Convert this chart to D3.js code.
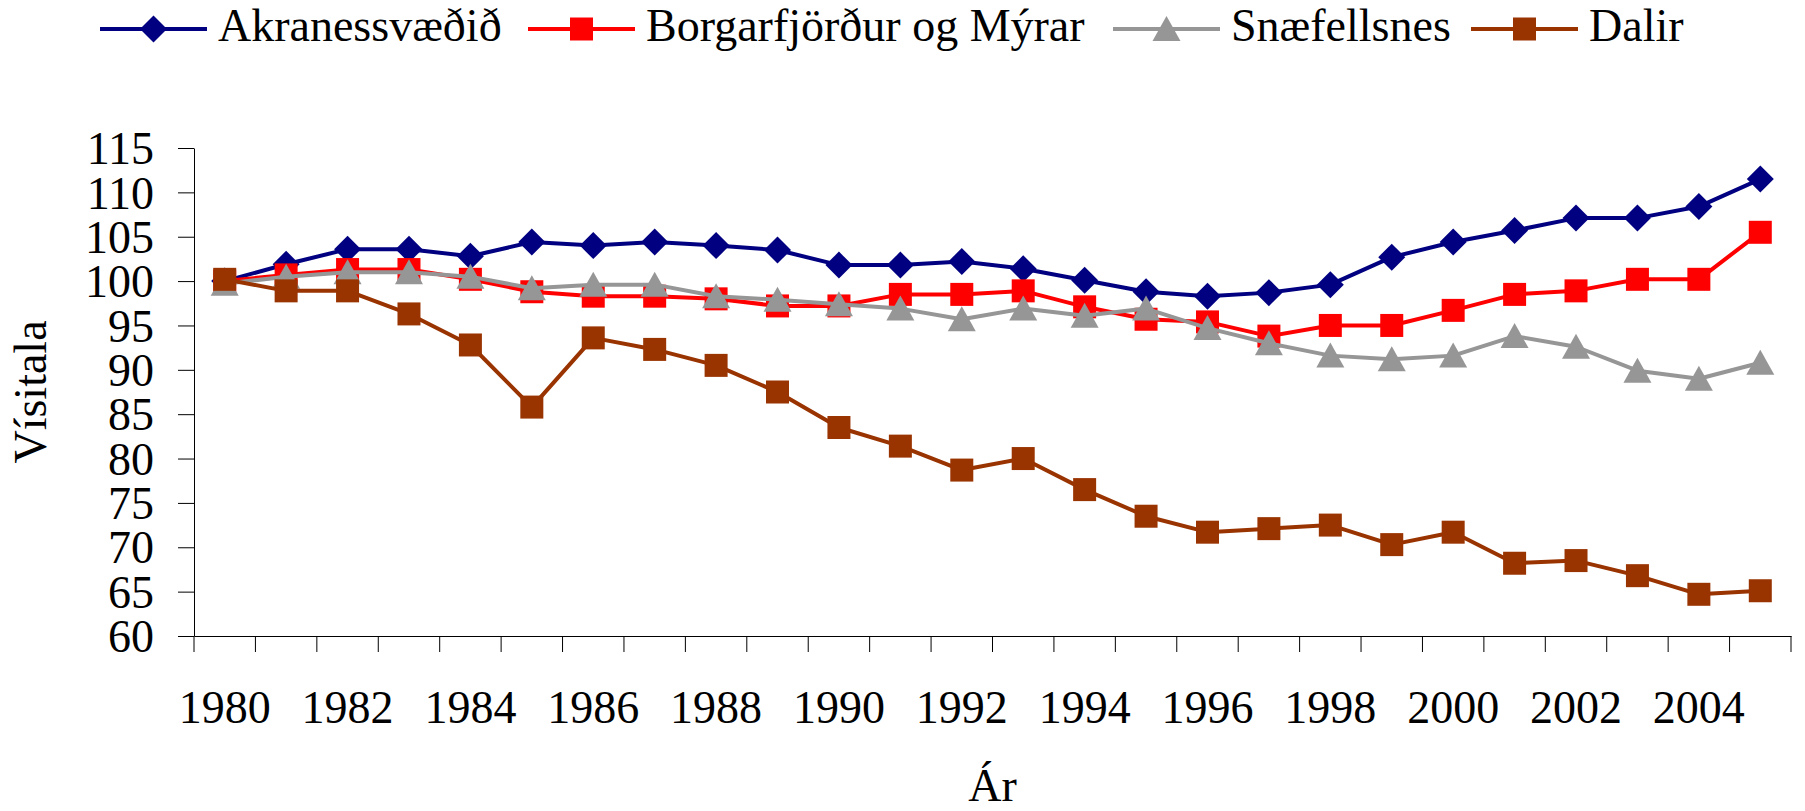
<!DOCTYPE html>
<html>
<head>
<meta charset="utf-8">
<script src="https://cdn.jsdelivr.net/npm/d3@7"></script>
<style>
  body { margin: 0; background: #fff; }
  text { font-family: "Liberation Serif", "Times New Roman", serif; fill: #000; }
</style>
</head>
<body>
<div id="chart"></div>
<script>
// data
const years = d3.range(1980, 2006);
const seriesNames = ["Akranessvæðið", "Borgarfjörður og Mýrar", "Snæfellsnes", "Dalir"];
const akranes = [100, 101.9, 103.6, 103.6, 102.8, 104.4, 104.0, 104.4, 104.0, 103.5, 101.8, 101.8, 102.2,
                 101.4, 100.1, 98.8, 98.3, 98.7, 99.6, 102.7, 104.4, 105.7, 107.1, 107.1, 108.4, 111.5];
const borgarfjordur = [100, 100.7, 101.3, 101.3, 100.2, 98.8, 98.3, 98.3, 98.0, 97.2, 97.2, 98.5, 98.5,
                       98.9, 97.1, 95.7, 95.4, 93.8, 95.0, 95.0, 96.7, 98.5, 98.9, 100.2, 100.2, 105.5];
const snaefellsnes = [99.7, 100.5, 101.0, 101.0, 100.5, 99.2, 99.6, 99.6, 98.3, 97.9, 97.4, 96.9, 95.7,
                      96.9, 96.1, 96.9, 94.7, 93.0, 91.6, 91.2, 91.6, 93.8, 92.6, 89.9, 89.0, 90.8];
const dalir = [100.2, 98.9, 98.9, 96.3, 92.8, 85.8, 93.6, 92.3, 90.5, 87.5, 83.5, 81.4, 78.7,
               80.0, 76.5, 73.5, 71.7, 72.1, 72.5, 70.3, 71.7, 68.2, 68.5, 66.8, 64.7, 65.1];
const yTicks = d3.range(60, 116, 5);
const xLabelYears = years.filter(y => y % 2 === 0);

const width = 1805, height = 811;
const margin = {top: 148, right: 14, bottom: 175, left: 194};

const colors = ["#000080", "#ff0000", "#969696", "#993300"];
const shapes = ["diamond", "square", "triangle", "square"];
const allSeries = [akranes, borgarfjordur, snaefellsnes, dalir];

const svg = d3.select("#chart")
  .append("svg")
  .attr("width", width)
  .attr("height", height);

const x = d3.scaleBand()
  .domain(years)
  .range([margin.left, width - margin.right])
  .padding(0);

const y = d3.scaleLinear()
  .domain([60, 115])
  .range([height - margin.bottom, margin.top]);

function markerPath(shape) {
  if (shape === "diamond") return "M0,-13.5L13.5,0L0,13.5L-13.5,0Z";
  if (shape === "triangle") return "M0,-13L14,12L-14,12Z";
  return "M-11.5,-11.5H11.5V11.5H-11.5Z";
}

// y axis
const yAxis = svg.append("g")
  .attr("transform", `translate(${margin.left},0)`)
  .call(d3.axisLeft(y).tickValues(yTicks).tickSize(16).tickSizeOuter(0).tickPadding(24));
yAxis.selectAll("text").attr("font-size", "46px").attr("dy", "0.34em");

// x axis: ticks between categories, labels every other year
const x0 = height - margin.bottom;
const xAxis = svg.append("g")
  .attr("transform", `translate(0,${x0})`)
  .call(d3.axisBottom(x).tickValues(xLabelYears).tickSize(0).tickSizeOuter(0).tickPadding(54));
xAxis.selectAll("text").attr("font-size", "46px");
svg.append("g")
  .selectAll("line")
  .data(years.concat([null]))
  .enter()
  .append("line")
    .attr("x1", (d, i) => i < years.length ? x(d) : x.range()[1])
    .attr("x2", (d, i) => i < years.length ? x(d) : x.range()[1])
    .attr("y1", x0)
    .attr("y2", x0 + 16)
    .attr("stroke", "#000");

svg.selectAll(".domain").attr("stroke", "#000");

// series
const line = d3.line()
  .x((d, i) => x(years[i]) + x.bandwidth() / 2)
  .y(d => y(d));

allSeries.forEach((vals, k) => {
  const g = svg.append("g");
  g.append("path")
    .datum(vals)
    .attr("d", line)
    .attr("fill", "none")
    .attr("stroke", colors[k])
    .attr("stroke-width", 4)
    .attr("stroke-linejoin", "round");
  g.selectAll("path.mk")
    .data(vals)
    .enter()
    .append("path")
      .attr("class", "mk")
      .attr("d", markerPath(shapes[k]))
      .attr("transform", (d, i) => `translate(${x(years[i]) + x.bandwidth() / 2},${y(d)})`)
      .attr("fill", colors[k]);
});

// axis titles
svg.append("text")
  .attr("x", (margin.left + width - margin.right) / 2)
  .attr("y", 801)
  .attr("text-anchor", "middle")
  .attr("font-size", "46px")
  .text("Ár");

svg.append("text")
  .attr("transform", `translate(46,${(margin.top + height - margin.bottom) / 2}) rotate(-90)`)
  .attr("text-anchor", "middle")
  .attr("font-size", "46px")
  .text("Vísitala");

// legend
const legendX = [100, 528, 1113, 1471];
const legend = svg.append("g");
seriesNames.forEach((name, k) => {
  const lg = legend.append("g").attr("transform", `translate(${legendX[k]},29)`);
  lg.append("line").attr("x1", 0).attr("x2", 107).attr("y1", 0).attr("y2", 0)
    .attr("stroke", colors[k]).attr("stroke-width", 4);
  lg.append("path").attr("d", markerPath(shapes[k]))
    .attr("transform", "translate(53.5,0)").attr("fill", colors[k]);
  lg.append("text").attr("x", 118).attr("y", 12).attr("font-size", "46px").text(name);
});
</script>
</body>
</html>
